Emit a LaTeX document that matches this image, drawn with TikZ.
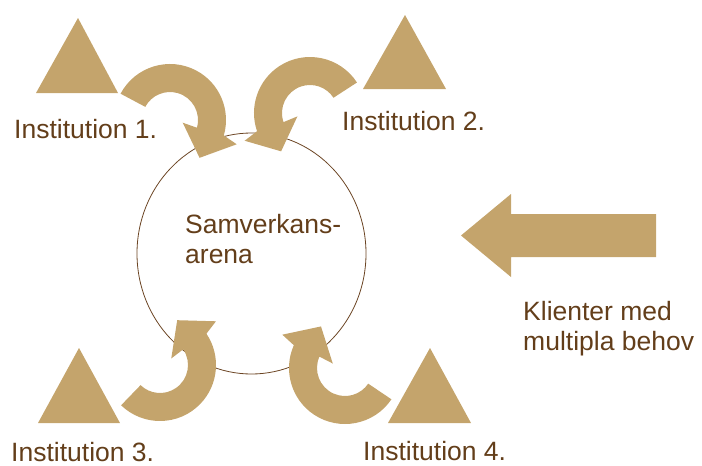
\documentclass[tikz,border=0pt]{standalone}
\usepackage{fontspec}
\setmainfont{Liberation Sans}
\usetikzlibrary{shapes.geometric}
\definecolor{tanfill}{HTML}{C4A46C}
\definecolor{txtbrown}{HTML}{633E1A}
\definecolor{linebrown}{HTML}{6B4423}
\newcommand{\carrow}[5]{% center, tail, head, tip, sign
  \fill[tanfill, shift={#1}] (#2:56) arc[start angle=#2, end angle=#3, radius=56]
    -- ({#3+4*#5}:71) -- (#4:48) -- ({#3-4*#5}:13) -- (#3:28)
    arc[start angle=#3, end angle=#2, radius=28] -- cycle;}
\begin{document}
\begin{tikzpicture}[x=1pt,y=-1pt,
  lab/.style={text=txtbrown, font=\fontsize{26.5}{31}\selectfont, inner sep=0pt, anchor=base west},
  tri/.style={fill=tanfill}]
\useasboundingbox (0,0) rectangle (702,466);
% central ellipse
\node[draw=linebrown, line width=0.8pt, ellipse, minimum width=229pt, minimum height=241pt, inner sep=0pt] (arena) at (251.5,253.5) {};
% triangles
\fill[tri] (78,18) -- (118,93) -- (36,93) -- cycle;
\fill[tri] (405,15) -- (446,89) -- (363,89) -- cycle;
\fill[tri] (79,348) -- (120,423) -- (38,423) -- cycle;
\fill[tri] (430,348) -- (471,423) -- (388,423) -- cycle;
% curved arrows
\carrow{(170,120)}{-152}{16}{52}{1}
\carrow{(310,113)}{-33}{-199}{-233}{-1}
\carrow{(160,365)}{-226}{-394}{-429}{-1}
\carrow{(345,368)}{34}{204}{240}{1}
% big arrow
\fill[tanfill] (656,214) -- (511,214) -- (511,194) -- (461,235.5) -- (511,277) -- (511,257) -- (656,257) -- cycle;
% labels
\node[lab] (i1) at (14,138) {Institution 1.};
\node[lab] (i2) at (342,130) {Institution 2.};
\node[lab] (i3) at (11,461) {Institution 3.};
\node[lab] (i4) at (363,460.5) {Institution 4.};
\node[lab] (s1) at (185,233) {Samverkans-};
\node[lab] (s2) at (185,263) {arena};
\node[lab] (k1) at (523,320) {Klienter med};
\node[lab] (k2) at (523,350) {multipla behov};
\end{tikzpicture}
\end{document}
